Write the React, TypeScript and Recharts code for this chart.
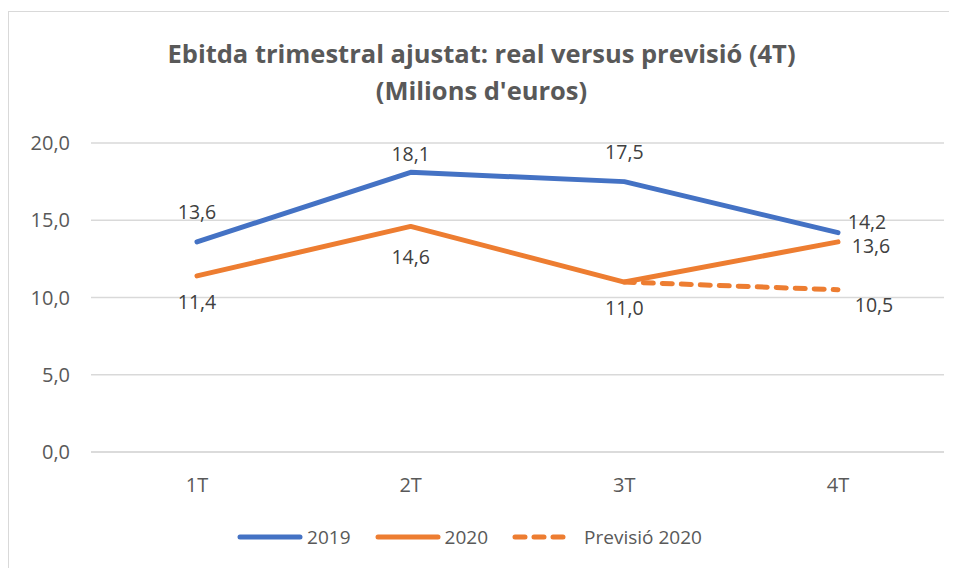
import { LineChart, Line, XAxis, YAxis, CartesianGrid, Legend, LabelList } from 'recharts';

const quarters = ['1T', '2T', '3T', '4T'];
const values2019 = [13.6, 18.1, 17.5, 14.2];
const values2020 = [11.4, 14.6, 11.0, 13.6];
const forecast2020 = [null, null, 11.0, 10.5];
const yTicks = [0, 5, 10, 15, 20];

const data = quarters.map((q, i) => ({
  q,
  y2019: values2019[i],
  y2020: values2020[i],
  prev: forecast2020[i],
}));

// label offsets (dx, dy) relative to each point, Excel places them by hand
const offs2019 = [[0, -30], [0, -19], [0, -30], [29, -11]];
const offs2020 = [[0, 26], [0, 30], [0, 25], [33, 4]];
const offsPrev = [[0, 0], [0, 0], [0, 0], [36, 15]];

const BLUE = '#4472C4';
const ORANGE = '#ED7D31';
const FONT = "'Open Sans', 'Liberation Sans', sans-serif";
const fmt = (v: number) => v.toFixed(1).replace('.', ',');

function makeLabel(offs: number[][], skip: number[] = []) {
  return (props: any) => {
    const { x, y, value, index } = props;
    if (value == null || skip.includes(index)) return null;
    const [dx, dy] = offs[index];
    return (
      <text
        x={x + dx}
        y={y + dy}
        textAnchor="middle"
        dominantBaseline="central"
        fill="#404040"
        fontSize={19.5}
        fontFamily={FONT}
      >
        {fmt(value)}
      </text>
    );
  };
}

function LegendBox() {
  const items = [
    { label: '2019', color: BLUE, dash: undefined, gap: 4, w: 66 },
    { label: '2020', color: ORANGE, dash: undefined, gap: 4, w: 66 },
    { label: 'Previsió 2020', color: ORANGE, dash: '10 9', gap: 10, w: 62 },
  ];
  return (
    <div style={{ display: 'flex', justifyContent: 'center', gap: 24, fontFamily: FONT, fontSize: 19, color: '#595959', height: 30, alignItems: 'center', paddingRight: 36 }}>
      {items.map((it) => (
        <div key={it.label} style={{ display: 'flex', alignItems: 'center', gap: it.gap }}>
          <svg width={it.w} height={10}>
            <line x1={3} y1={5} x2={it.w - 3} y2={5} stroke={it.color} strokeWidth={5} strokeLinecap="round" strokeDasharray={it.dash} />
          </svg>
          <span>{it.label}</span>
        </div>
      ))}
    </div>
  );
}

export default function App() {
  return (
    <div style={{ marginTop: 3, width: 960, height: 570, border: '1px solid #d9d9d9', background: '#fff', position: 'relative' }}>
      <div style={{ position: 'absolute', top: 23, left: 0, width: 945, textAlign: 'center', fontFamily: FONT, fontWeight: 700, fontSize: 25.5, color: '#595959', lineHeight: '37px' }}>
        Ebitda trimestral ajustat: real versus previsió (4T)
        <br />
        (Milions d'euros)
      </div>
      <LineChart width={945} height={557} data={data} margin={{ top: 131, right: 10, bottom: 47, left: 22 }}>
        <CartesianGrid vertical={false} stroke="#d9d9d9" strokeWidth={1.5} />
        <XAxis
          dataKey="q"
          axisLine={{ stroke: '#d9d9d9', strokeWidth: 1.5 }}
          tickLine={false}
          tickSize={0}
          tickMargin={26}
          height={40}
          padding={{ left: 106, right: 106 }}
          tick={{ fill: '#595959', fontSize: 20, fontFamily: FONT }}
        />
        <YAxis
          domain={[0, 20]}
          ticks={yTicks}
          tickFormatter={fmt}
          axisLine={false}
          tickLine={false}
          tickSize={0}
          tickMargin={21}
          width={60}
          tick={{ fill: '#595959', fontSize: 20, fontFamily: FONT }}
        />
        <Legend verticalAlign="bottom" content={<LegendBox />} wrapperStyle={{ bottom: 17 }} />
        <Line dataKey="prev" stroke={ORANGE} strokeWidth={5} strokeDasharray="10 9" strokeLinecap="round" dot={false} isAnimationActive={false} legendType="none">
          <LabelList dataKey="prev" content={makeLabel(offsPrev, [2])} />
        </Line>
        <Line dataKey="y2020" stroke={ORANGE} strokeWidth={5} strokeLinecap="round" strokeLinejoin="round" dot={false} isAnimationActive={false}>
          <LabelList dataKey="y2020" content={makeLabel(offs2020)} />
        </Line>
        <Line dataKey="y2019" stroke={BLUE} strokeWidth={5} strokeLinecap="round" strokeLinejoin="round" dot={false} isAnimationActive={false}>
          <LabelList dataKey="y2019" content={makeLabel(offs2019)} />
        </Line>
      </LineChart>
    </div>
  );
}
